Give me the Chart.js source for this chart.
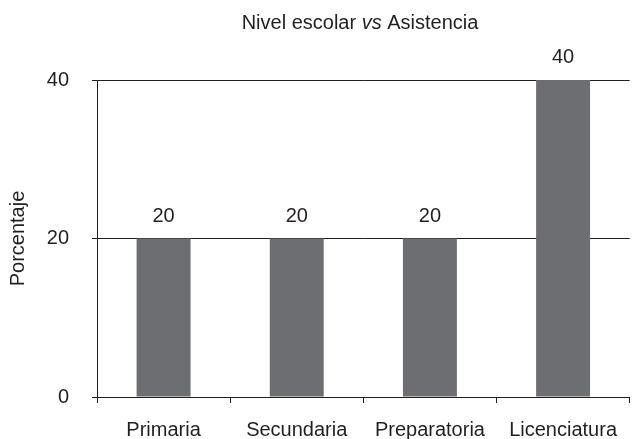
<!DOCTYPE html>
<html>
<head>
<meta charset="utf-8">
<script src="https://cdn.jsdelivr.net/npm/chart.js@4"></script>
<style>
  html, body { margin: 0; padding: 0; background: #fff; }
  #wrap { width: 632px; height: 439px; }
</style>
</head>
<body>
<div id="wrap"><canvas id="nivelChart"></canvas></div>
<script>
const categories = ['Primaria', 'Secundaria', 'Preparatoria', 'Licenciatura'];
const porcentajes = [20, 20, 20, 40];
const yTicks = [0, 20, 40];
const titleParts = [['Nivel escolar ', 'normal'], ['vs', 'italic'], [' Asistencia', 'normal']];

const FONT = "'Liberation Sans', Arial, sans-serif";
const SIZE = 20;
const INK = '#231f20';
const BAR = '#6d6e71';
Chart.defaults.font.family = FONT;
Chart.defaults.font.size = SIZE;
Chart.defaults.color = INK;

// title (italic "vs") and the value over each bar
const extras = {
    id: 'extras',
    afterDatasetsDraw(chart) {
        const ctx = chart.ctx;
        ctx.save();
        ctx.fillStyle = INK;
        ctx.textBaseline = 'alphabetic';
        ctx.textAlign = 'center';
        ctx.font = `${SIZE}px ${FONT}`;
        chart.getDatasetMeta(0).data.forEach((bar, i) => {
            ctx.fillText(String(porcentajes[i]), bar.x, bar.y - 17);
        });

        ctx.textAlign = 'left';
        const widths = titleParts.map(([t, s]) => {
            ctx.font = `${s} ${SIZE}px ${FONT}`;
            return ctx.measureText(t).width;
        });
        let x = 360 - widths.reduce((a, b) => a + b, 0) / 2;
        titleParts.forEach(([t, s], i) => {
            ctx.font = `${s} ${SIZE}px ${FONT}`;
            ctx.fillText(t, x, 29);
            x += widths[i];
        });
        ctx.restore();
    }
};

const ctxNivel = document.getElementById('nivelChart').getContext('2d');
new Chart(ctxNivel, {
    type: 'bar',
    data: {
        labels: categories,
        datasets: [{
            label: 'Porcentaje',
            data: porcentajes,
            backgroundColor: BAR,
            borderWidth: 0,
            barPercentage: 0.405,
            categoryPercentage: 1
        }]
    },
    options: {
        responsive: true,
        maintainAspectRatio: false,
        animation: false,
        layout: { padding: { top: 80, right: 0, bottom: 0, left: 0 } },
        plugins: { legend: { display: false }, tooltip: { enabled: false } },
        scales: {
            x: {
                grid: { offset: true, drawOnChartArea: false, drawTicks: true, tickLength: 6, color: INK, lineWidth: 1 },
                border: { display: true, color: INK, width: 1 },
                ticks: { padding: 15, color: INK, maxRotation: 0, autoSkip: false },
                afterFit: s => { s.height = 42; }
            },
            y: {
                min: 0,
                max: 40,
                afterBuildTicks: s => { s.ticks = yTicks.map(v => ({ value: v })); },
                grid: { color: INK, lineWidth: 1, tickLength: 5 },
                border: { display: true, color: INK, width: 1 },
                ticks: { padding: 23, color: INK },
                title: { display: true, text: 'Porcentaje', color: INK, padding: { top: 6, bottom: 0 } },
                afterFit: s => { s.width = 97; }
            }
        }
    },
    plugins: [extras]
});
</script>
</body>
</html>
